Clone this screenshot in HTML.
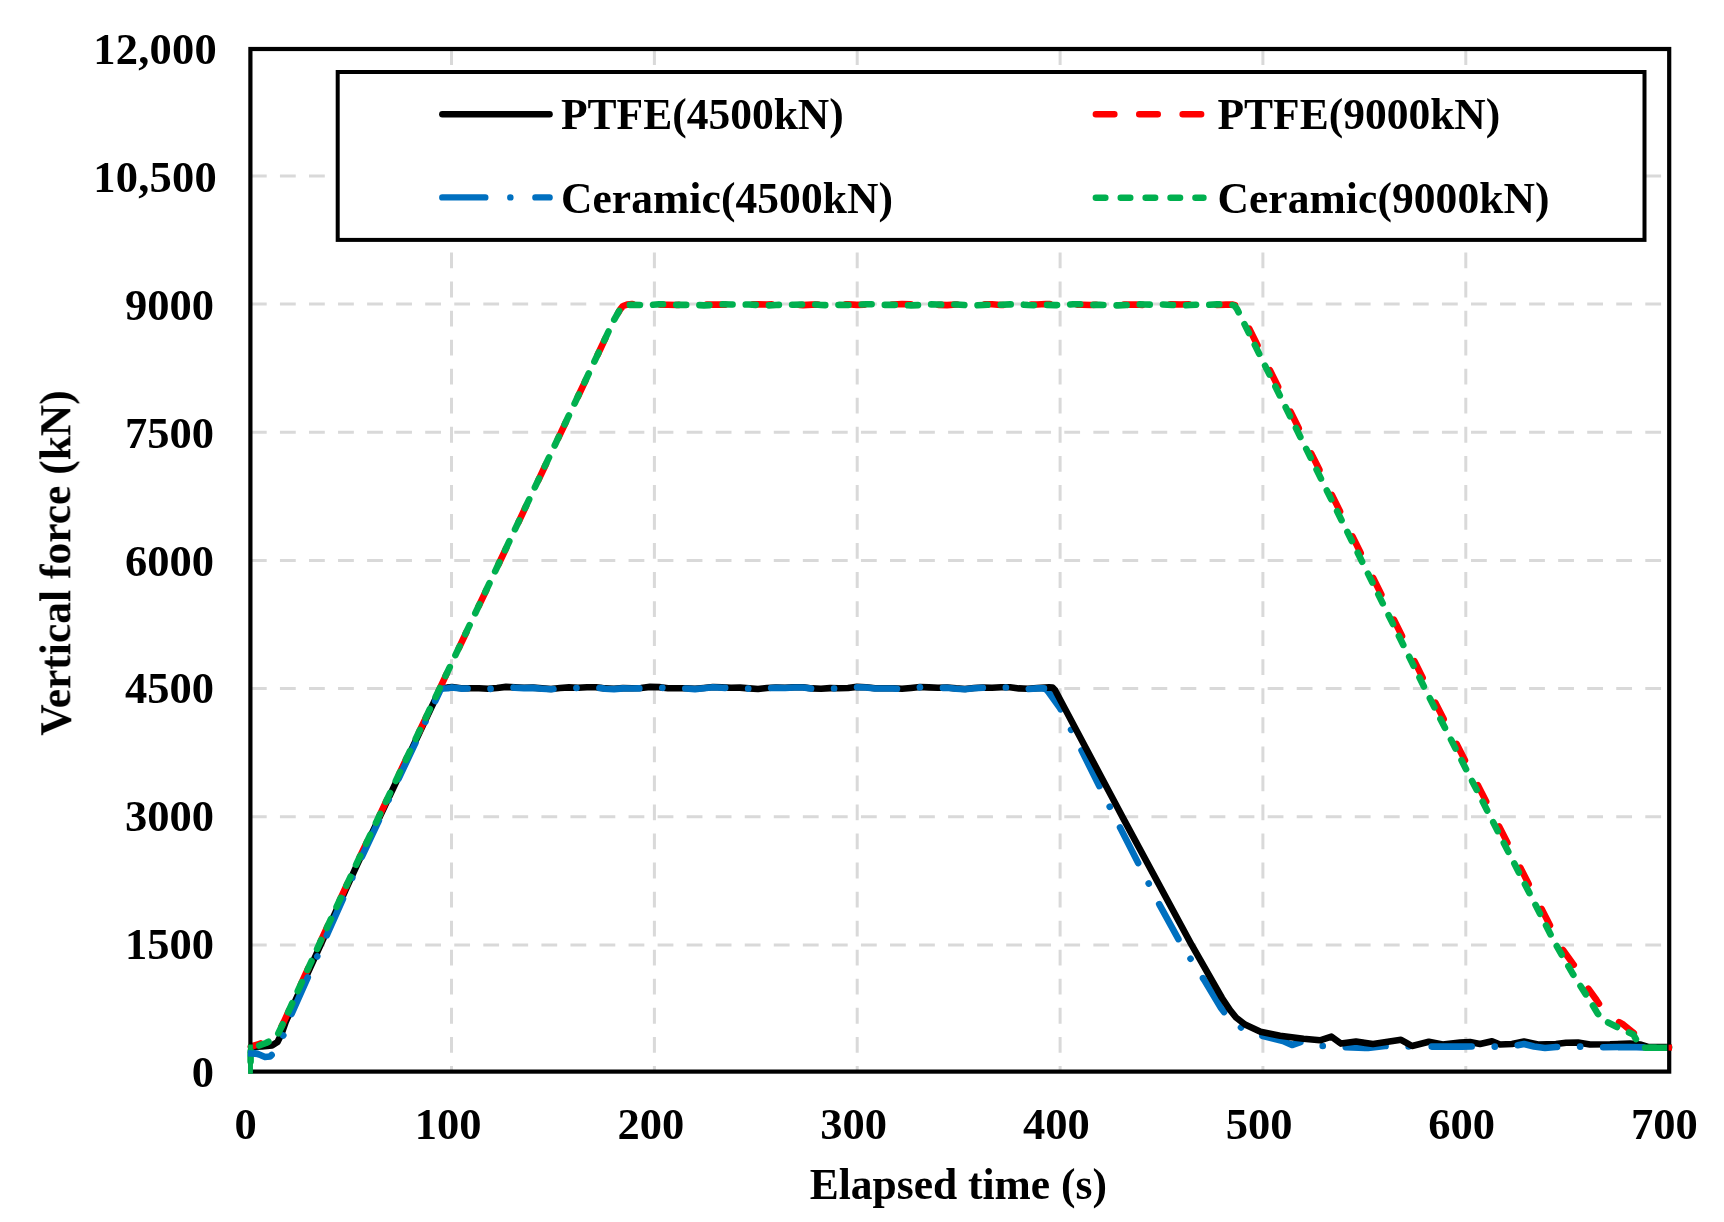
<!DOCTYPE html>
<html><head><meta charset="utf-8"><title>Vertical force vs elapsed time</title>
<style>
html,body{margin:0;padding:0;background:#fff;overflow:hidden;}
svg{display:block;}
text{font-family:"Liberation Serif","Times New Roman",Times,serif;font-weight:bold;font-size:43.5px;fill:#000;}
.t{font-size:44.5px;}
.g{stroke:#d9d9d9;stroke-width:3;stroke-dasharray:15.8 13.25;fill:none;}
.s{fill:none;stroke-width:6.6;stroke-linejoin:round;stroke-linecap:round;}
</style></head><body>
<svg width="1724" height="1222" viewBox="0 0 1724 1222">
<rect x="0" y="0" width="1724" height="1222" fill="#fff"/>
<defs><filter id="soft" x="0" y="0" width="1724" height="1222" filterUnits="userSpaceOnUse"><feGaussianBlur stdDeviation="0.6"/></filter></defs>
<g filter="url(#soft)">

<line class="g" x1="250.9" y1="944.9" x2="1669.2" y2="944.9"/>
<line class="g" x1="250.9" y1="816.7" x2="1669.2" y2="816.7"/>
<line class="g" x1="250.9" y1="688.5" x2="1669.2" y2="688.5"/>
<line class="g" x1="250.9" y1="560.4" x2="1669.2" y2="560.4"/>
<line class="g" x1="250.9" y1="432.2" x2="1669.2" y2="432.2"/>
<line class="g" x1="250.9" y1="304.1" x2="1669.2" y2="304.1"/>
<line class="g" x1="250.9" y1="175.9" x2="1669.2" y2="175.9"/>
<line class="g" x1="451.5" y1="49.2" x2="451.5" y2="1071.6"/>
<line class="g" x1="654.4" y1="49.2" x2="654.4" y2="1071.6"/>
<line class="g" x1="857.2" y1="49.2" x2="857.2" y2="1071.6"/>
<line class="g" x1="1060.1" y1="49.2" x2="1060.1" y2="1071.6"/>
<line class="g" x1="1262.9" y1="49.2" x2="1262.9" y2="1071.6"/>
<line class="g" x1="1465.8" y1="49.2" x2="1465.8" y2="1071.6"/>
<path class="s" d="M1044.0 688.4 L1046.0 689.3 L1048.5 692.0 L1060.0 708.1 L1081.0 749.3 L1120.5 828.4 L1160.0 905.7 L1180.8 943.5 L1205.0 981.3 L1221.0 1008.0 L1227.3 1016.5 L1243.4 1029.4 L1264.0 1036.3 L1283.0 1041.0 L1292.0 1045.0 L1301.0 1042.0 L1312.0 1046.0 L1330.0 1046.0 L1345.0 1047.2 L1368.0 1048.0 L1385.0 1046.0 L1400.0 1046.5 L1420.0 1046.6" stroke="#0070c0" stroke-dasharray="40 23 0.1 23" stroke-dashoffset="13"/>
<path class="s" d="M251.0 1047.0 L262.0 1046.5 L272.0 1045.5 L277.5 1042.0 L281.5 1034.0 L285.7 1022.0 L306.2 976.5 L325.8 933.5 L357.6 863.6 L440.3 688.6 L443.0 687.8 L447.0 687.6 L452.0 687.1 L461.0 688.3 L470.0 688.2 L479.0 688.2 L488.0 688.8 L497.0 688.0 L506.0 686.9 L515.0 687.4 L524.0 687.8 L533.0 687.6 L542.0 688.4 L551.0 689.0 L560.0 688.0 L569.0 687.4 L578.0 687.7 L587.0 687.3 L596.0 687.2 L605.0 688.4 L614.0 688.8 L623.0 688.1 L632.0 688.2 L641.0 688.0 L650.0 686.9 L659.0 687.1 L668.0 688.2 L677.0 688.2 L686.0 688.2 L695.0 688.8 L704.0 688.0 L713.0 687.0 L722.0 687.4 L731.0 687.8 L740.0 687.6 L749.0 688.4 L758.0 689.0 L767.0 688.0 L776.0 687.5 L785.0 687.7 L794.0 687.2 L803.0 687.2 L812.0 688.4 L821.0 688.8 L830.0 688.1 L839.0 688.2 L848.0 688.0 L857.0 686.9 L866.0 687.2 L875.0 688.2 L884.0 688.2 L893.0 688.2 L902.0 688.8 L911.0 688.0 L920.0 687.0 L929.0 687.4 L938.0 687.7 L947.0 687.5 L956.0 688.4 L965.0 689.0 L974.0 688.0 L983.0 687.5 L992.0 687.8 L1001.0 687.2 L1010.0 687.2 L1019.0 688.4 L1028.0 688.7 L1037.0 688.1 L1049.0 687.4 L1052.6 687.6 L1055.0 690.0 L1123.1 818.1 L1191.8 945.2 L1222.0 998.0 L1230.0 1010.0 L1236.0 1017.5 L1245.0 1024.5 L1260.5 1031.8 L1280.0 1035.8 L1303.5 1038.8 L1320.0 1040.3 L1331.4 1036.6 L1341.0 1043.6 L1356.0 1041.6 L1373.0 1044.0 L1401.0 1039.8 L1412.0 1046.0 L1428.8 1041.8 L1442.7 1044.6 L1460.0 1042.6 L1470.0 1042.0 L1480.0 1044.0 L1492.0 1041.2 L1500.0 1044.5 L1512.0 1044.0 L1524.0 1041.5 L1538.0 1044.5 L1556.0 1044.0 L1566.0 1042.8 L1578.0 1042.5 L1590.0 1044.5 L1610.0 1044.3 L1630.0 1043.5 L1640.0 1044.5 L1648.0 1047.0 L1669.0 1047.0" stroke="#000"/>
<path class="s" d="M251.0 1046.5 L258.0 1044.5 L266.0 1041.0 L273.0 1037.5 L278.5 1032.5 L284.0 1021.5 L304.6 976.2 L324.4 933.2 L356.8 863.4 L440.3 687.3 L585.9 379.8 L613.4 321.3 L620.2 309.3 L623.0 306.0 L627.0 304.6 L632.0 304.1 L641.0 304.3 L650.0 304.9 L659.0 304.8 L668.0 304.8 L677.0 305.0 L686.0 304.5 L695.0 304.0 L704.0 304.4 L713.0 304.6 L722.0 304.5 L731.0 304.9 L740.0 305.1 L749.0 304.5 L758.0 304.3 L767.0 304.5 L776.0 304.3 L785.0 304.3 L794.0 305.0 L803.0 305.1 L812.0 304.6 L821.0 304.7 L830.0 304.5 L839.0 304.0 L848.0 304.3 L857.0 304.9 L866.0 304.8 L875.0 304.8 L884.0 305.0 L893.0 304.5 L902.0 304.0 L911.0 304.4 L920.0 304.6 L929.0 304.5 L938.0 304.9 L947.0 305.1 L956.0 304.5 L965.0 304.3 L974.0 304.5 L983.0 304.3 L992.0 304.3 L1001.0 305.0 L1010.0 305.0 L1019.0 304.6 L1028.0 304.7 L1037.0 304.5 L1046.0 304.0 L1055.0 304.3 L1064.0 304.9 L1073.0 304.8 L1082.0 304.8 L1091.0 305.0 L1100.0 304.5 L1109.0 304.1 L1118.0 304.4 L1127.0 304.6 L1136.0 304.5 L1145.0 305.0 L1154.0 305.1 L1163.0 304.5 L1172.0 304.3 L1181.0 304.5 L1190.0 304.2 L1199.0 304.3 L1208.0 305.0 L1217.0 305.0 L1226.0 304.6 L1233.0 304.6 L1236.5 305.6 L1239.5 309.0 L1430.0 692.4 L1562.0 948.6 L1574.4 965.8 L1584.2 983.0 L1596.5 1000.0 L1606.3 1014.9 L1623.5 1024.7 L1637.0 1035.7 L1640.0 1041.0 L1644.0 1046.5 L1648.0 1047.8" stroke="#ff0000" stroke-dasharray="18.4 28.0" stroke-dashoffset="8.4"/>
<path class="s" d="M251.0 1052.5 L258.0 1054.0 L265.0 1057.0 L270.0 1056.5 L275.0 1052.0 L280.0 1043.0 L284.0 1034.0 L288.0 1022.0 L308.2 976.5 L327.6 933.5 L358.6 863.6 L440.6 689.5 L443.5 688.5 L448.0 688.3 L452.0 687.4 L461.0 688.6 L470.0 688.5 L479.0 688.5 L488.0 689.1 L497.0 688.3 L506.0 687.2 L515.0 687.7 L524.0 688.1 L533.0 687.9 L542.0 688.7 L551.0 689.3 L560.0 688.3 L569.0 687.7 L578.0 688.0 L587.0 687.6 L596.0 687.5 L605.0 688.7 L614.0 689.1 L623.0 688.4 L632.0 688.5 L641.0 688.3 L650.0 687.2 L659.0 687.4 L668.0 688.5 L677.0 688.5 L686.0 688.5 L695.0 689.1 L704.0 688.3 L713.0 687.3 L722.0 687.7 L731.0 688.1 L740.0 687.9 L749.0 688.7 L758.0 689.3 L767.0 688.3 L776.0 687.8 L785.0 688.0 L794.0 687.5 L803.0 687.5 L812.0 688.7 L821.0 689.1 L830.0 688.4 L839.0 688.5 L848.0 688.3 L857.0 687.2 L866.0 687.5 L875.0 688.5 L884.0 688.5 L893.0 688.5 L902.0 689.1 L911.0 688.3 L920.0 687.3 L929.0 687.7 L938.0 688.0 L947.0 687.8 L956.0 688.7 L965.0 689.3 L974.0 688.3 L983.0 687.8 L992.0 688.1 L1001.0 687.5 L1010.0 687.5 L1019.0 688.7 L1028.0 689.0 L1037.0 688.4 L1044.0 688.4" stroke="#0070c0" stroke-dasharray="40 23 0.1 23" stroke-dashoffset="18"/>
<path class="s" d="M1420.0 1046.6 L1440.0 1046.6 L1462.0 1046.6 L1490.0 1046.5 L1505.0 1047.0 L1516.0 1045.5 L1524.0 1044.0 L1534.0 1046.5 L1545.0 1048.0 L1556.0 1047.0 L1575.0 1046.5 L1600.0 1047.2 L1630.0 1047.0 L1650.0 1047.5" stroke="#0070c0" stroke-dasharray="40 23 0.1 23" stroke-dashoffset="74.4"/>
<path class="s" d="M250.6 1071.5 L250.6 1047.0 L258.0 1046.0 L266.0 1043.0 L273.0 1039.5 L278.0 1034.0 L283.7 1022.0 L304.4 976.5 L324.2 933.5 L356.6 863.6 L440.1 687.5 L585.7 380.0 L613.2 321.5 L620.0 309.5 L623.0 306.2 L627.0 304.9 L632.0 304.9 L641.0 305.0 L650.0 304.9 L659.0 304.3 L668.0 304.3 L677.0 304.9 L686.0 304.9 L695.0 304.9 L704.0 305.4 L713.0 305.0 L722.0 304.3 L731.0 304.5 L740.0 304.7 L749.0 304.5 L758.0 305.0 L767.0 305.5 L776.0 305.0 L785.0 304.6 L794.0 304.7 L803.0 304.4 L812.0 304.3 L821.0 305.0 L830.0 305.3 L839.0 304.9 L848.0 305.0 L857.0 304.9 L866.0 304.2 L875.0 304.3 L884.0 304.9 L893.0 304.9 L902.0 305.0 L911.0 305.4 L920.0 305.0 L929.0 304.3 L938.0 304.5 L947.0 304.7 L956.0 304.5 L965.0 305.0 L974.0 305.5 L983.0 305.0 L992.0 304.6 L1001.0 304.8 L1010.0 304.4 L1019.0 304.3 L1028.0 305.0 L1037.0 305.3 L1046.0 304.9 L1055.0 305.1 L1064.0 305.0 L1073.0 304.2 L1082.0 304.3 L1091.0 304.9 L1100.0 304.9 L1109.0 305.0 L1118.0 305.4 L1127.0 305.0 L1136.0 304.3 L1145.0 304.5 L1154.0 304.7 L1163.0 304.5 L1172.0 305.0 L1181.0 305.5 L1190.0 305.0 L1199.0 304.6 L1208.0 304.8 L1217.0 304.4 L1226.0 304.3 L1231.0 304.8 L1234.5 305.6 L1237.0 309.0 L1426.8 692.4 L1554.7 942.5 L1573.1 974.4 L1592.0 1004.0 L1597.7 1013.6 L1605.0 1021.0 L1620.0 1028.5 L1633.3 1034.5 L1638.2 1043.0 L1644.3 1047.8 L1669.0 1047.6" stroke="#00b050" stroke-dasharray="10.0 13.2" stroke-dashoffset="13.1"/>
<line x1="1650" y1="1047.7" x2="1667" y2="1047.7" stroke="#00b050" stroke-width="6.6" stroke-linecap="round"/>
<rect x="250.4" y="49.0" width="1418.8" height="1022.6" fill="none" stroke="#000" stroke-width="4.2"/>
<line x1="250.5" y1="1044.5" x2="250.5" y2="1073.8" stroke="#00b050" stroke-width="4.8"/>
<line x1="248.0" y1="1053.3" x2="258.4" y2="1054" stroke="#0070c0" stroke-width="6.4"/>
<rect x="1668.6" y="1044.6" width="3.4" height="6" fill="#ff0000"/>
<rect x="337.7" y="72" width="1306.8" height="167.9" fill="#fff" stroke="#000" stroke-width="4"/>
<line x1="442.3" y1="114.2" x2="549.6" y2="114.2" stroke="#000" stroke-width="6.4" stroke-linecap="round"/>
<line x1="442.3" y1="197.4" x2="549.6" y2="197.4" stroke="#0070c0" stroke-width="6.4" stroke-linecap="round" stroke-dasharray="43 25 0.1 25"/>
<line x1="1095.8" y1="114.2" x2="1201.6" y2="114.2" stroke="#ff0000" stroke-width="6.4" stroke-linecap="round" stroke-dasharray="18.6 24.8"/>
<line x1="1095.8" y1="197.8" x2="1203.5" y2="197.8" stroke="#00b050" stroke-width="6.4" stroke-linecap="round" stroke-dasharray="9.6 15.3"/>
<text x="561" y="129">PTFE(4500kN)</text>
<text x="561" y="212.5" letter-spacing="0.07">Ceramic(4500kN)</text>
<text x="1217.5" y="129">PTFE(9000kN)</text>
<text x="1217.5" y="212.5" letter-spacing="0.07">Ceramic(9000kN)</text>
<text class="t" x="214" y="1086.8" text-anchor="end">0</text>
<text class="t" x="214" y="959.0" text-anchor="end">1500</text>
<text class="t" x="214" y="831.2" text-anchor="end">3000</text>
<text class="t" x="214" y="703.4" text-anchor="end">4500</text>
<text class="t" x="214" y="575.6" text-anchor="end">6000</text>
<text class="t" x="214" y="447.8" text-anchor="end">7500</text>
<text class="t" x="214" y="320.0" text-anchor="end">9000</text>
<text class="t" x="217" y="192.2" text-anchor="end" letter-spacing="0.25">10,500</text>
<text class="t" x="217" y="64.4" text-anchor="end" letter-spacing="0.25">12,000</text>
<text x="245.5" y="1139.3" class="t" text-anchor="middle">0</text>
<text x="448.2" y="1139.3" class="t" text-anchor="middle">100</text>
<text x="650.9" y="1139.3" class="t" text-anchor="middle">200</text>
<text x="853.6" y="1139.3" class="t" text-anchor="middle">300</text>
<text x="1056.3" y="1139.3" class="t" text-anchor="middle">400</text>
<text x="1259.0" y="1139.3" class="t" text-anchor="middle">500</text>
<text x="1461.7" y="1139.3" class="t" text-anchor="middle">600</text>
<text x="1664.4" y="1139.3" class="t" text-anchor="middle">700</text>
<text x="958.3" y="1198.6" text-anchor="middle">Elapsed time (s)</text>
<text transform="translate(70.3 563) rotate(-90)" text-anchor="middle">Vertical force (kN)</text>
</g></svg></body></html>
